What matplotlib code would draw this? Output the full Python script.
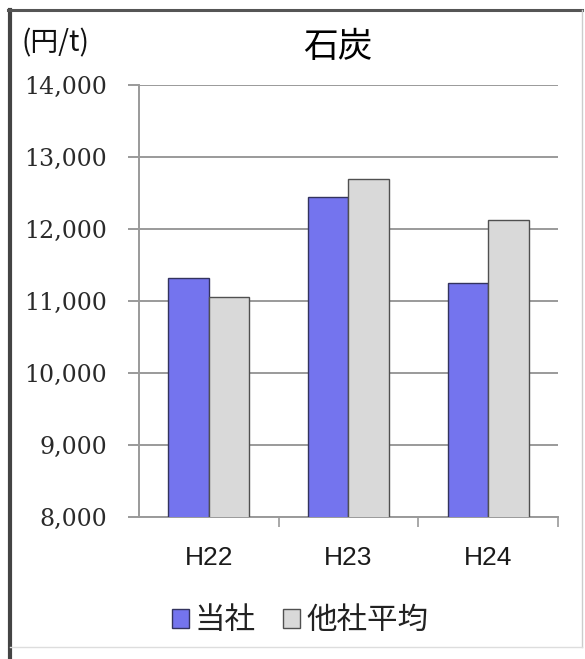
import numpy as np
import matplotlib
matplotlib.use("Agg")
import matplotlib.pyplot as plt
from matplotlib.lines import Line2D
from matplotlib.ticker import FuncFormatter, FixedLocator

plt.rcParams['font.family'] = ['Noto Sans CJK JP', 'DejaVu Sans']

# 石炭 unit price (円/t)
years = ["H22", "H23", "H24"]
own = [11320, 12450, 11250]        # 当社
others = [11060, 12700, 12130]     # 他社平均
series_names = ["当社", "他社平均"]
yticks = [8000, 9000, 10000, 11000, 12000, 13000, 14000]

fig = plt.figure(figsize=(5.85, 6.59), dpi=100)
ax = fig.add_axes([0.2376, 0.2155, 0.7162, 0.6555])

x = np.arange(len(years))
w = 0.29
b1 = ax.bar(x - w / 2, own, w, color="#7474ee", edgecolor="#33335e",
            linewidth=1.0, label=series_names[0], zorder=3)
b2 = ax.bar(x + w / 2, others, w, color="#d9d9d9", edgecolor="#505050",
            linewidth=1.0, label=series_names[1], zorder=3)

ax.set_xlim(-0.5, 2.5)
ax.set_ylim(8000, 14000)
ax.set_yticks(yticks)
ax.yaxis.set_major_formatter(FuncFormatter(lambda v, p: f"{int(v):,}"))
ax.grid(axis="y", color="#9a9a9a", linewidth=1.4, zorder=0)
ax.set_axisbelow(True)

for s in ["top", "right"]:
    ax.spines[s].set_visible(False)
for s in ["left", "bottom"]:
    ax.spines[s].set_color("#9a9a9a")
    ax.spines[s].set_linewidth(1.4)

ax.tick_params(axis="y", length=8, width=1.4, color="#9a9a9a", pad=15,
               labelsize=17, labelcolor="#2a2a2a")
for t in ax.get_yticklabels():
    t.set_family("DejaVu Serif")

ax.set_xticks(x)
ax.set_xticklabels(years)
ax.tick_params(axis="x", which="major", length=0, pad=21, labelsize=19,
               labelcolor="#1a1a1a")
for t in ax.get_xticklabels():
    t.set_family("Liberation Sans")
ax.xaxis.set_minor_locator(FixedLocator([0.5, 1.5, 2.5]))
ax.tick_params(axis="x", which="minor", length=7, width=1.2, color="#9a9a9a")

fig.text(0.578, 0.928, "石炭", ha="center", va="center", fontsize=25,
         color="#000000")
fig.text(0.036, 0.934, "(円/t)", ha="left", va="center", fontsize=20,
         color="#111111")

fig.legend(handles=[b1, b2], labels=series_names, loc="center",
           bbox_to_anchor=(0.513, 0.058), ncol=2, frameon=False,
           fontsize=22, handlelength=0.55, handleheight=0.55,
           handletextpad=0.2, columnspacing=0.9, labelcolor="#222222")

# outer frame
fig.add_artist(Line2D([0.0171, 0.0171], [0.0, 0.985], color="#444444",
                      linewidth=3.0))
fig.add_artist(Line2D([0.014, 0.995], [0.9848, 0.9848], color="#555555",
                      linewidth=2.2))
fig.add_artist(Line2D([0.995, 0.995], [0.018, 0.985], color="#cccccc",
                      linewidth=1.0))
fig.add_artist(Line2D([0.0171, 0.995], [0.018, 0.018], color="#dddddd",
                      linewidth=1.0))

fig.savefig("out.png", dpi=100)
